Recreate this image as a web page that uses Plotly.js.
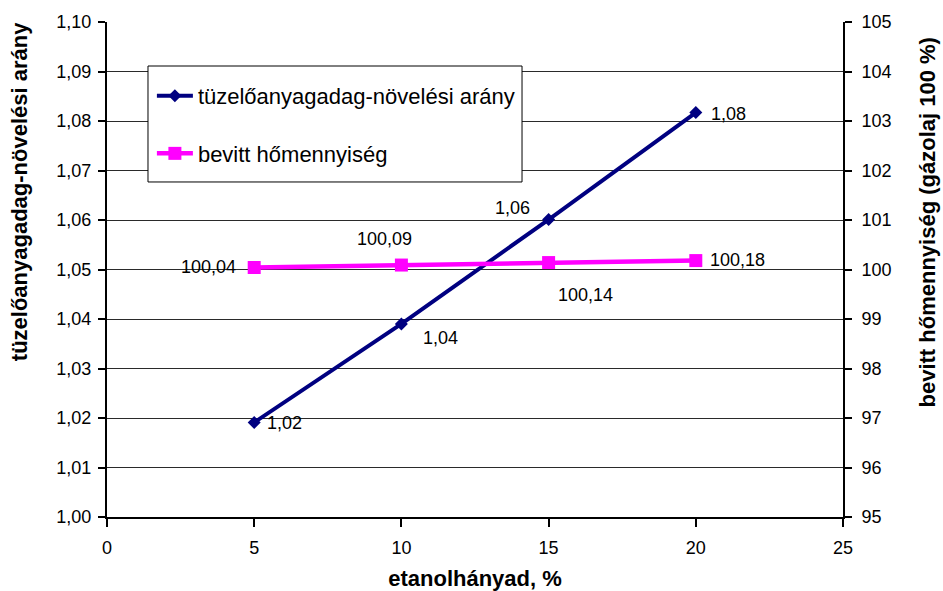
<!DOCTYPE html>
<html>
<head>
<meta charset="utf-8">
<script src="https://cdn.plot.ly/plotly-3.0.1.min.js"></script>
<style>
  html, body { margin: 0; padding: 0; background: #fff; }
  #chart { width: 943px; height: 591px; }
</style>
</head>
<body>
<div id="chart"></div>
<script>
// Ethanol share in the blend, %
const etanol = [5, 10, 15, 20];
// Fuel dose increase ratio (left axis)
const adagArany = [1.0191, 1.039, 1.0601, 1.0817];
// Heat input relative to diesel = 100 % (right axis)
const hoMennyiseg = [100.04, 100.09, 100.14, 100.18];

const nameArany = 'tüzelőanyagadag-növelési arány';
const nameHo = 'bevitt hőmennyiség';

const FONT = 'Liberation Sans, Arial, sans-serif';
const fmt = v => v.toFixed(2).replace('.', ',');

// label placement around each point: [xanchor, xshift, yshift]
const aranyLabelPos = [['left', 11, -1], ['left', 20, -14], ['right', -17, 12], ['left', 13, -1]];
const hoLabelPos = [['right', -16, 1], ['center', -17, 26], ['center', 37, -32], ['left', 12, 1]];

const traces = [
  {
    x: etanol, y: adagArany, name: nameArany, type: 'scatter', mode: 'lines+markers',
    line: { color: '#000080', width: 4 },
    marker: { symbol: 'diamond', size: 10, color: '#000080' },
    legendgroup: 'a', yaxis: 'y'
  },
  {
    x: etanol, y: hoMennyiseg, name: nameHo, type: 'scatter', mode: 'lines+markers',
    line: { color: '#FF00FF', width: 4.5 },
    marker: { symbol: 'square', size: 13, color: '#FF00FF' },
    legendgroup: 'b', yaxis: 'y2'
  }
];

const annotations = [];
etanol.forEach((x, i) => {
  const pa = aranyLabelPos[i];
  annotations.push({
    x: x, y: adagArany[i], xref: 'x', yref: 'y', text: fmt(adagArany[i]),
    showarrow: false, xanchor: pa[0], yanchor: 'middle', xshift: pa[1], yshift: pa[2],
    font: { family: FONT, size: 18, color: '#000' }
  });
  const ph = hoLabelPos[i];
  annotations.push({
    x: x, y: hoMennyiseg[i], xref: 'x', yref: 'y2', text: fmt(hoMennyiseg[i]),
    showarrow: false, xanchor: ph[0], yanchor: 'middle', xshift: ph[1], yshift: ph[2],
    font: { family: FONT, size: 18, color: '#000' }
  });
});

// vertical axis titles
annotations.push({
  xref: 'paper', yref: 'paper', x: -0.119, y: 0.657, textangle: -90,
  text: '<b>tüzelőanyagadag-növelési arány</b>', showarrow: false,
  xanchor: 'center', yanchor: 'middle', font: { family: FONT, size: 22, color: '#000' }
});
annotations.push({
  xref: 'paper', yref: 'paper', x: 1.1148, y: 0.596, textangle: -90,
  text: '<b>bevitt hőmennyiség (gázolaj 100 %)</b>', showarrow: false,
  xanchor: 'center', yanchor: 'middle', font: { family: FONT, size: 22, color: '#000' }
});

const layout = {
  width: 943, height: 591,
  margin: { l: 107, r: 100, t: 22, b: 74, pad: 0 },
  paper_bgcolor: '#fff', plot_bgcolor: '#fff',
  separators: ', ',
  font: { family: FONT, size: 18, color: '#000' },
  showlegend: true,
  legend: {
    x: 0.061, y: 0.893, xanchor: 'left', yanchor: 'top',
    bgcolor: 'rgba(0,0,0,0)', borderwidth: 0,
    traceorder: 'grouped', tracegroupgap: 26,
    itemwidth: 36,
    font: { family: FONT, size: 22, color: '#000' }
  },
  xaxis: {
    range: [0, 25], dtick: 5, tick0: 0,
    ticks: 'outside', ticklen: 8, tickwidth: 2, tickcolor: '#000',
    showline: true, linewidth: 2, linecolor: '#000',
    showgrid: false, zeroline: false,
    tickfont: { family: FONT, size: 18, color: '#000' },
    ticklabelstandoff: 5,
    title: { text: '<b>etanolhányad, %</b>', standoff: 16, font: { family: FONT, size: 22, color: '#000' } }
  },
  yaxis: {
    range: [1.00, 1.10], dtick: 0.01, tick0: 1.0, tickformat: '.2f',
    ticks: 'outside', ticklen: 7, tickwidth: 2, tickcolor: '#000',
    showline: true, linewidth: 2, linecolor: '#000',
    showgrid: true, gridcolor: '#2a2a2a', gridwidth: 1, zeroline: false,
    tickfont: { family: FONT, size: 18, color: '#000' },
    ticklabelstandoff: 3
  },
  yaxis2: {
    range: [95, 105], dtick: 1, tick0: 95,
    overlaying: 'y', side: 'right', anchor: 'x',
    ticks: 'outside', ticklen: 7, tickwidth: 2, tickcolor: '#000',
    showline: true, linewidth: 2, linecolor: '#000',
    showgrid: false, zeroline: false,
    tickfont: { family: FONT, size: 18, color: '#000' },
    ticklabelstandoff: 6
  },
  yaxis3: {
    range: [95, 105], dtick: 1, tick0: 95,
    overlaying: 'y', side: 'right', anchor: 'x',
    ticks: 'inside', ticklen: 6, tickwidth: 2, tickcolor: '#000',
    showline: false, showgrid: false, zeroline: false, showticklabels: false
  },
  shapes: [{
    type: 'rect', xref: 'paper', yref: 'paper', layer: 'above',
    x0: 0.0557, x1: 0.5639, y0: 0.6768, y1: 0.9111,
    fillcolor: '#fff', line: { color: '#000', width: 1 }
  }],
  annotations: annotations
};

Plotly.newPlot('chart', traces, layout, { displayModeBar: false, staticPlot: true });
</script>
</body>
</html>
